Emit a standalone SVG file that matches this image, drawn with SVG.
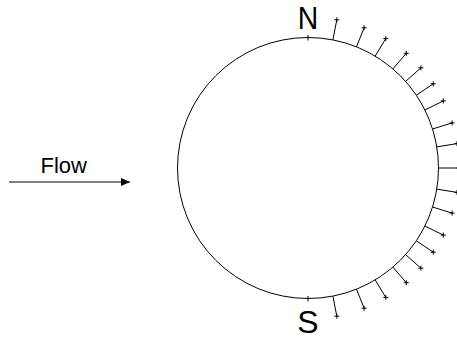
<svg xmlns="http://www.w3.org/2000/svg" width="457" height="342" viewBox="0 0 457 342">
<style>
.s{stroke:#000;stroke-width:1;fill:none}
.tap{stroke:#000;stroke-width:1;fill:none;marker-end:url(#cross)}
.lbl{font-family:"Liberation Sans",Arial,sans-serif;fill:#000}
</style>
<defs>
<marker id="cross" markerUnits="userSpaceOnUse" markerWidth="7" markerHeight="7" refX="3.5" refY="3.5" viewBox="0 0 7 7" overflow="visible">
<path d="M1,3.5H6M3.5,1V6" stroke="#000" stroke-width="1" fill="none"/>
</marker>
<marker id="arrow" markerUnits="userSpaceOnUse" markerWidth="9" markerHeight="8" refX="9" refY="4" viewBox="0 0 9 8" orient="auto">
<path d="M0,0L9,4L0,8Z" fill="#000"/>
</marker>
</defs>
<rect width="457" height="342" fill="#fff"/>
<g id="cylinder">
<circle class="s" cx="308" cy="168" r="130.5"/>
<path class="s" d="M308,35V40.5M308,296V301.5"/>
</g>
<g id="label-N"><text class="lbl" transform="translate(308,28.5) scale(0.9,1)" font-size="31.5" text-anchor="middle">N</text></g>
<g id="label-S"><text class="lbl" x="308" y="333" font-size="32" text-anchor="middle">S</text></g>
<g id="flow">
<text class="lbl" x="40.5" y="173" font-size="22">Flow</text>
</g>
<g id="connectors">
<line class="s" x1="9" y1="182" x2="130" y2="182" marker-end="url(#arrow)"/>
<g id="taps">
<line class="tap" x1="438.5" y1="168" x2="459" y2="168"/>
<line class="tap" x1="436.8" y1="146.9" x2="457" y2="143.6"/>
<line class="tap" x1="432.5" y1="129" x2="452.1" y2="122.9"/>
<line class="tap" x1="424.9" y1="110" x2="443.3" y2="100.9"/>
<line class="tap" x1="416.3" y1="95.2" x2="433.3" y2="83.8"/>
<line class="tap" x1="405.6" y1="81.4" x2="420.9" y2="67.8"/>
<line class="tap" x1="392.9" y1="68.9" x2="406.3" y2="53.3"/>
<line class="tap" x1="375.2" y1="56.1" x2="385.8" y2="38.6"/>
<line class="tap" x1="356.5" y1="46.8" x2="364.1" y2="27.8"/>
<line class="tap" x1="332.9" y1="39.9" x2="336.8" y2="19.8"/>
<line class="tap" x1="436.8" y1="189.1" x2="457" y2="192.4"/>
<line class="tap" x1="432.5" y1="207" x2="452.1" y2="213.1"/>
<line class="tap" x1="424.9" y1="226" x2="443.3" y2="235.1"/>
<line class="tap" x1="416.3" y1="240.8" x2="433.3" y2="252.2"/>
<line class="tap" x1="405.6" y1="254.6" x2="420.9" y2="268.2"/>
<line class="tap" x1="392.9" y1="267.1" x2="406.3" y2="282.7"/>
<line class="tap" x1="375.2" y1="279.9" x2="385.8" y2="297.4"/>
<line class="tap" x1="356.5" y1="289.2" x2="364.1" y2="308.2"/>
<line class="tap" x1="332.9" y1="296.1" x2="336.8" y2="316.2"/>
</g>
</g>
</svg>
